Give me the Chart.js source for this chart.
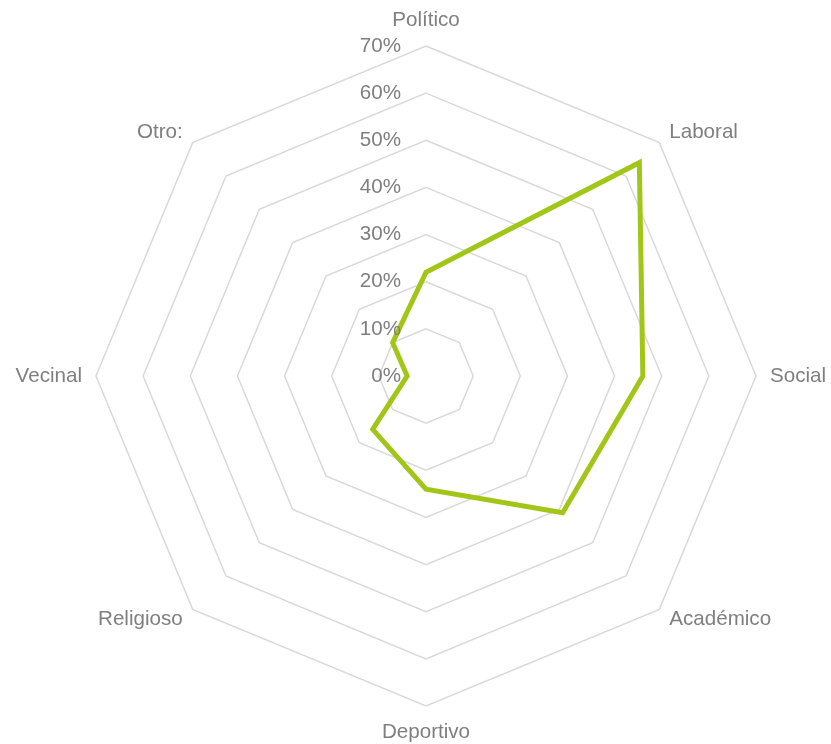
<!DOCTYPE html>
<html>
<head>
<meta charset="utf-8">
<script src="https://cdn.jsdelivr.net/npm/chart.js@4/dist/chart.umd.min.js"></script>
<style>
  html, body { margin: 0; padding: 0; background: #fff; }
  #radar { display: block; }
</style>
</head>
<body>
<canvas id="radar" width="831" height="744"></canvas>
<script>
// categories and values (percent)
const categories = ['Político', 'Laboral', 'Social', 'Académico', 'Deportivo', 'Religioso', 'Vecinal', 'Otro:'];
const values = [22, 64, 46, 41, 24, 16, 4, 10];
const tickValues = [0, 10, 20, 30, 40, 50, 60, 70];
const tickLabels = ['0%', '10%', '20%', '30%', '40%', '50%', '60%', '70%'];

const textColor = '#7f7f7f';
const textFont = '20.6px "Liberation Sans", Arial, sans-serif';

// Excel-like labels: ticks right-aligned left of the axis, point labels centred on the vertex direction
const labelsPlugin = {
    id: 'excelLabels',
    afterDraw: (chart) => {
        const scale = chart.scales.r;
        const ctx = chart.ctx;
        ctx.save();
        ctx.font = textFont;
        ctx.fillStyle = textColor;
        ctx.textBaseline = 'middle';

        // tick labels
        ctx.textAlign = 'right';
        for (let i = 0; i < tickValues.length; i++) {
            const d = scale.getDistanceFromCenterForValue(tickValues[i]);
            ctx.fillText(tickLabels[i], scale.xCenter - 25, scale.yCenter - d);
        }

        // point labels
        for (let i = 0; i < categories.length; i++) {
            const pos = scale.getPointPosition(i, scale.drawingArea + 14);
            let y = pos.y;
            const dx = pos.x - scale.xCenter;
            if (Math.abs(dx) < 1) {
                ctx.textAlign = 'center';
                y += (pos.y < scale.yCenter) ? -12 : 12;
            } else if (dx > 0) {
                ctx.textAlign = 'left';
            } else {
                ctx.textAlign = 'right';
            }
            ctx.fillText(categories[i], pos.x, y);
        }
        ctx.restore();
    }
};

new Chart(document.getElementById('radar').getContext('2d'), {
    type: 'radar',
    data: {
        labels: categories,
        datasets: [{
            data: values,
            borderColor: '#a2c617',
            borderWidth: 5,
            borderJoinStyle: 'miter',
            fill: false,
            pointRadius: 0,
            pointHoverRadius: 0,
            tension: 0
        }]
    },
    options: {
        responsive: false,
        animation: false,
        layout: { padding: { left: 96, right: 75, top: 46, bottom: 38 } },
        plugins: { legend: { display: false }, tooltip: { enabled: false } },
        scales: {
            r: {
                min: 0,
                max: 70,
                ticks: { stepSize: 10, display: false },
                grid: { color: '#d9d9d9', lineWidth: 1.5 },
                angleLines: { display: false },
                pointLabels: { display: false }
            }
        }
    },
    plugins: [labelsPlugin]
});
</script>
</body>
</html>
